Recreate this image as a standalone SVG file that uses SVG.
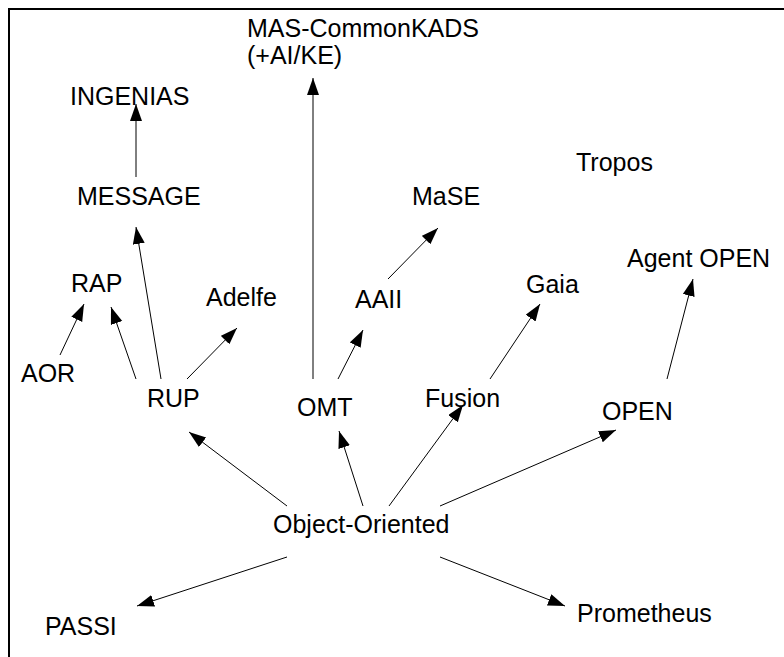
<svg xmlns="http://www.w3.org/2000/svg" width="784" height="657" viewBox="0 0 784 657">
<style>
  text { font-family: "Liberation Sans", Arial, sans-serif; font-size: 25px; fill: #000; }
  .edge { stroke: #000; stroke-width: 1; fill: none; marker-end: url(#arrow); }
</style>
<defs>
  <marker id="arrow" markerUnits="userSpaceOnUse" markerWidth="18" markerHeight="13" refX="17" refY="6" orient="auto">
    <path d="M0,0 L17,6 L0,12 z" fill="#000"/>
  </marker>
</defs>
<rect x="0" y="0" width="784" height="657" fill="#fff"/>
<rect x="9" y="9" width="820" height="700" fill="none" stroke="#000" stroke-width="2"/>
<g id="connectors">
  <line class="edge" x1="136" y1="177" x2="136" y2="104"/>
  <line class="edge" x1="313" y1="379" x2="313" y2="78"/>
  <line class="edge" x1="161" y1="379" x2="136" y2="227"/>
  <line class="edge" x1="136" y1="379" x2="111" y2="307"/>
  <line class="edge" x1="60" y1="355" x2="84" y2="304"/>
  <line class="edge" x1="187" y1="379" x2="237" y2="328"/>
  <line class="edge" x1="338" y1="379" x2="363" y2="330"/>
  <line class="edge" x1="388" y1="279" x2="438" y2="228"/>
  <line class="edge" x1="490" y1="379" x2="540" y2="304"/>
  <line class="edge" x1="667" y1="379" x2="693" y2="279"/>
  <line class="edge" x1="287" y1="506" x2="189" y2="432"/>
  <line class="edge" x1="363" y1="506" x2="339" y2="431"/>
  <line class="edge" x1="389" y1="506" x2="463" y2="405"/>
  <line class="edge" x1="440" y1="506" x2="616" y2="430"/>
  <line class="edge" x1="287" y1="557" x2="137" y2="606"/>
  <line class="edge" x1="440" y1="557" x2="565" y2="606"/>
</g>
<g id="mas-commonkads"><text x="247" y="37">MAS-CommonKADS</text><text x="247" y="64">(+AI/KE)</text></g>
<g id="ingenias"><text x="70" y="105">INGENIAS</text></g>
<g id="tropos"><text x="576" y="171">Tropos</text></g>
<g id="message"><text x="77" y="205">MESSAGE</text></g>
<g id="mase"><text x="412" y="205">MaSE</text></g>
<g id="agent-open"><text x="627" y="267">Agent OPEN</text></g>
<g id="rap"><text x="71" y="292">RAP</text></g>
<g id="gaia"><text x="526" y="293">Gaia</text></g>
<g id="adelfe"><text x="206" y="306">Adelfe</text></g>
<g id="aaii"><text x="355" y="308">AAII</text></g>
<g id="aor"><text x="21" y="382">AOR</text></g>
<g id="rup"><text x="147" y="407">RUP</text></g>
<g id="fusion"><text x="425" y="407">Fusion</text></g>
<g id="omt"><text x="297" y="416">OMT</text></g>
<g id="open"><text x="602" y="420">OPEN</text></g>
<g id="object-oriented"><text x="273" y="533">Object-Oriented</text></g>
<g id="prometheus"><text x="577" y="622">Prometheus</text></g>
<g id="passi"><text x="45" y="635">PASSI</text></g>
</svg>
